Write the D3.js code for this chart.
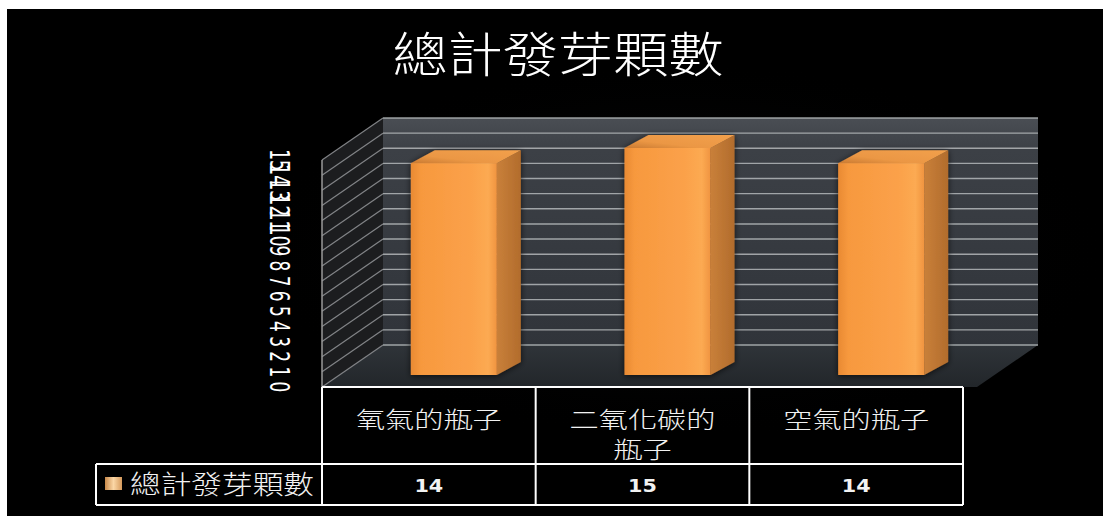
<!DOCTYPE html>
<html>
<head>
<meta charset="utf-8">
<script src="https://cdn.jsdelivr.net/npm/d3@7"></script>
<style>
  html, body { margin: 0; padding: 0; background: #ffffff; }
  svg { display: block; }
</style>
</head>
<body>
<svg id="chart" width="1105" height="516"></svg>
<script>
// ---- data ----
const chartTitle = "總計發芽顆數";
const seriesName = "總計發芽顆數";
const categories = ["氧氣的瓶子", "二氧化碳的瓶子", "空氣的瓶子"];
const categoryLines = [["氧氣的瓶子"], ["二氧化碳的", "瓶子"], ["空氣的瓶子"]];
const values = [14, 15, 14];
const yTicks = [0, 1, 2, 3, 4, 5, 6, 7, 8, 9, 10, 11, 12, 13, 14, 15];

// ---- layout ----
const svg = d3.select("#chart");
const W = 1105, H = 516;
const CJK = "'Noto Sans CJK TC', 'Noto Sans CJK SC', sans-serif";
const LAT = "'DejaVu Sans', 'Liberation Sans', sans-serif";

const front = { left: 322, right: 977, bottom: 387, top: 160 };
const depth = { dx: 61, dy: -42 };          // oblique depth of the walls
const barFrontShift = { dx: 25, dy: -12 };  // bar front plane inside the box
const barBackShift = { dx: 49, dy: -25 };   // bar back plane
const table = { left: 322, right: 963, top: 387, mid: 464, bottom: 505, legendLeft: 96 };

const y = d3.scaleLinear().domain([0, 15]).range([front.bottom, front.top]);
const xTable = d3.scaleBand().domain(categories).range([table.left, table.right]);
const barWidth = 86;

const defs = svg.append("defs");

// page: white margin with black chart area
svg.append("rect").attr("x", 0).attr("y", 0).attr("width", W).attr("height", H).attr("fill", "#ffffff");
svg.append("rect").attr("x", 7).attr("y", 9).attr("width", W - 9).attr("height", H - 9).attr("fill", "#000000");

// faint glow behind the plot
const glow = defs.append("radialGradient").attr("id", "glow").attr("cx", "50%").attr("cy", "50%").attr("r", "50%");
glow.append("stop").attr("offset", "0%").attr("stop-color", "#1a1c20").attr("stop-opacity", 0.7);
glow.append("stop").attr("offset", "100%").attr("stop-color", "#000").attr("stop-opacity", 0);
svg.append("ellipse").attr("cx", 680).attr("cy", 250).attr("rx", 430).attr("ry", 190).attr("fill", "url(#glow)");

// ---- title ----
svg.append("text")
  .attr("transform", `translate(558,72) scale(1.15,1)`)
  .attr("text-anchor", "middle")
  .attr("font-family", CJK)
  .attr("font-weight", 300)
  .attr("font-size", 48)
  .attr("fill", "#ffffff")
  .text(chartTitle);

// ---- back wall ----
const wallGrad = defs.append("linearGradient").attr("id", "wallGrad").attr("x1", 0).attr("y1", 0).attr("x2", 0).attr("y2", 1);
wallGrad.append("stop").attr("offset", "0%").attr("stop-color", "#4a4e54");
wallGrad.append("stop").attr("offset", "14%").attr("stop-color", "#3c4046");
wallGrad.append("stop").attr("offset", "100%").attr("stop-color", "#30343a");

const bx0 = front.left + depth.dx, bx1 = front.right + depth.dx;
svg.append("rect")
  .attr("x", bx0).attr("y", y(15) + depth.dy)
  .attr("width", bx1 - bx0).attr("height", y(0) - y(15))
  .attr("fill", "url(#wallGrad)");

// ---- floor ----
const floorGrad = defs.append("linearGradient").attr("id", "floorGrad").attr("x1", 0).attr("y1", 0).attr("x2", 0).attr("y2", 1);
floorGrad.append("stop").attr("offset", "0%").attr("stop-color", "#2f3439");
floorGrad.append("stop").attr("offset", "100%").attr("stop-color", "#22262a");
svg.append("path")
  .attr("d", d3.line()([
    [front.left, y(0)], [front.right, y(0)],
    [front.right + depth.dx, y(0) + depth.dy], [front.left + depth.dx, y(0) + depth.dy]
  ]) + "Z")
  .attr("fill", "url(#floorGrad)");

// ---- side wall ----
svg.append("path")
  .attr("d", d3.line()([
    [front.left, y(0)], [front.left, y(15)],
    [front.left + depth.dx, y(15) + depth.dy], [front.left + depth.dx, y(0) + depth.dy]
  ]) + "Z")
  .attr("fill", "#1c1d1f");

// gridlines on back wall
svg.append("g").selectAll("line").data(yTicks).join("line")
  .attr("x1", bx0).attr("x2", bx1)
  .attr("y1", d => y(d) + depth.dy).attr("y2", d => y(d) + depth.dy)
  .attr("stroke", "#b4b7ba").attr("stroke-width", 1.4).attr("stroke-opacity", 0.85);

// gridlines on side wall
svg.append("g").selectAll("line").data(yTicks).join("line")
  .attr("x1", front.left).attr("y1", d => y(d))
  .attr("x2", front.left + depth.dx).attr("y2", d => y(d) + depth.dy)
  .attr("stroke", "#8d8f92").attr("stroke-width", 1.2).attr("stroke-opacity", 0.9);

// side wall front edge
svg.append("line")
  .attr("x1", front.left).attr("x2", front.left)
  .attr("y1", y(15)).attr("y2", y(0))
  .attr("stroke", "#9a9a9a").attr("stroke-width", 1.5);

// ---- bars ----
const frontGrad = defs.append("linearGradient").attr("id", "barFront").attr("x1", 0).attr("y1", 0).attr("x2", 1).attr("y2", 0);
frontGrad.append("stop").attr("offset", "0%").attr("stop-color", "#e98a33");
frontGrad.append("stop").attr("offset", "12%").attr("stop-color", "#f7993e");
frontGrad.append("stop").attr("offset", "70%").attr("stop-color", "#fba14a");
frontGrad.append("stop").attr("offset", "90%").attr("stop-color", "#fcaa52");
frontGrad.append("stop").attr("offset", "100%").attr("stop-color", "#f09440");
const sideGrad = defs.append("linearGradient").attr("id", "barSide").attr("x1", 0).attr("y1", 0).attr("x2", 1).attr("y2", 0);
sideGrad.append("stop").attr("offset", "0%").attr("stop-color", "#c9803a");
sideGrad.append("stop").attr("offset", "100%").attr("stop-color", "#b26c2c");
const topGrad = defs.append("linearGradient").attr("id", "barTop").attr("x1", 0).attr("y1", 1).attr("x2", 1).attr("y2", 0);
topGrad.append("stop").attr("offset", "0%").attr("stop-color", "#c97a32");
topGrad.append("stop").attr("offset", "35%").attr("stop-color", "#eb9744");
topGrad.append("stop").attr("offset", "100%").attr("stop-color", "#f2a04c");

const shadow = defs.append("filter").attr("id", "barShadow").attr("x", "-20%").attr("y", "-10%").attr("width", "140%").attr("height", "120%");
shadow.append("feGaussianBlur").attr("in", "SourceAlpha").attr("stdDeviation", 3).attr("result", "b");
shadow.append("feOffset").attr("in", "b").attr("dx", 0).attr("dy", 1).attr("result", "o");
shadow.append("feComponentTransfer").attr("in", "o").attr("result", "s")
  .append("feFuncA").attr("type", "linear").attr("slope", 0.7);
const fm = shadow.append("feMerge");
fm.append("feMergeNode").attr("in", "s");
fm.append("feMergeNode").attr("in", "SourceGraphic");

const bars = svg.append("g").attr("filter", "url(#barShadow)")
  .selectAll("g").data(categories.map((c, i) => ({ c, v: values[i] }))).join("g");

bars.each(function (d) {
  const g = d3.select(this);
  const cx = xTable(d.c) + xTable.bandwidth() / 2;
  const fx0 = cx - barWidth / 2 + barFrontShift.dx, fx1 = fx0 + barWidth;
  const fy0 = y(0) + barFrontShift.dy, fy1 = y(d.v) + barFrontShift.dy;
  const sdx = barBackShift.dx - barFrontShift.dx, sdy = barBackShift.dy - barFrontShift.dy;
  // side face
  g.append("path")
    .attr("d", d3.line()([[fx1, fy0], [fx1, fy1], [fx1 + sdx, fy1 + sdy], [fx1 + sdx, fy0 + sdy]]) + "Z")
    .attr("fill", "url(#barSide)");
  // top face
  g.append("path")
    .attr("d", d3.line()([[fx0, fy1], [fx1, fy1], [fx1 + sdx, fy1 + sdy], [fx0 + sdx, fy1 + sdy]]) + "Z")
    .attr("fill", "url(#barTop)");
  // front face
  g.append("rect")
    .attr("x", fx0).attr("y", fy1).attr("width", barWidth).attr("height", fy0 - fy1)
    .attr("fill", "url(#barFront)");
});

// ---- y axis labels (rotated, stretched) ----
svg.append("g").selectAll("text").data(yTicks).join("text")
  .attr("transform", d => `translate(270,${y(d)}) scale(1.6,1) rotate(90)`)
  .attr("text-anchor", "middle")
  .attr("font-family", LAT)
  .attr("font-size", 17)
  .attr("fill", "#ffffff")
  .text(d => d);

// ---- data table ----
const tbl = svg.append("g").attr("stroke", "#ffffff").attr("stroke-width", 2).attr("fill", "none");
tbl.append("line").attr("x1", table.left).attr("x2", table.right).attr("y1", table.top).attr("y2", table.top);
tbl.append("line").attr("x1", table.legendLeft).attr("x2", table.right).attr("y1", table.mid).attr("y2", table.mid);
tbl.append("line").attr("x1", table.legendLeft).attr("x2", table.right).attr("y1", table.bottom).attr("y2", table.bottom);
tbl.append("line").attr("x1", table.legendLeft).attr("x2", table.legendLeft).attr("y1", table.mid).attr("y2", table.bottom);
const colEdges = categories.map(c => xTable(c)).concat([table.right]);
tbl.selectAll("line.col").data(colEdges).join("line").attr("class", "col")
  .attr("x1", d => d).attr("x2", d => d).attr("y1", table.top).attr("y2", table.bottom);

// category labels
categoryLines.forEach((lines, i) => {
  const cx = xTable(categories[i]) + xTable.bandwidth() / 2;
  lines.forEach((ln, j) => {
    svg.append("text")
      .attr("transform", `translate(${cx},${428 + j * 30}) scale(1.27,1)`)
      .attr("text-anchor", "middle")
      .attr("font-family", CJK)
      .attr("font-weight", 300)
      .attr("font-size", 23)
      .attr("fill", "#f2f2f2")
      .text(ln);
  });
});

// values row
svg.append("g").selectAll("text").data(values).join("text")
  .attr("transform", (d, i) => `translate(${xTable(categories[i]) + xTable.bandwidth() / 2},492) scale(1.15,1)`)
  .attr("text-anchor", "middle")
  .attr("font-family", LAT)
  .attr("font-weight", "bold")
  .attr("font-size", 18)
  .attr("fill", "#f2f2f2")
  .text(d => d);

// legend key and series name
const keyGrad = defs.append("linearGradient").attr("id", "keyGrad").attr("x1", 0).attr("y1", 0).attr("x2", 1).attr("y2", 0);
keyGrad.append("stop").attr("offset", "0%").attr("stop-color", "#c8894a");
keyGrad.append("stop").attr("offset", "50%").attr("stop-color", "#fbd7a6");
keyGrad.append("stop").attr("offset", "100%").attr("stop-color", "#d69a5c");
svg.append("rect").attr("x", 105).attr("y", 477).attr("width", 17).attr("height", 13).attr("fill", "url(#keyGrad)");
svg.append("text")
  .attr("transform", `translate(130,494) scale(1.18,1)`)
  .attr("font-family", CJK)
  .attr("font-weight", 300)
  .attr("font-size", 26)
  .attr("fill", "#f2f2f2")
  .text(seriesName);
</script>
</body>
</html>
